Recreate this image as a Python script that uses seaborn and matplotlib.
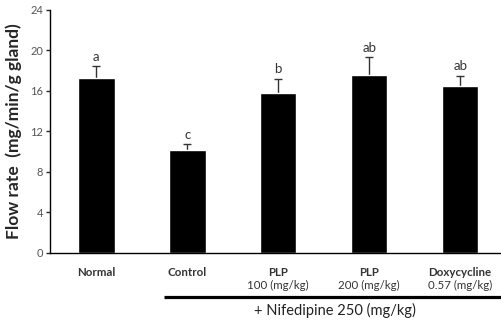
import numpy as np
import pandas as pd
import matplotlib
matplotlib.use('Agg')
from matplotlib import pyplot as plt
import matplotlib.transforms as mtransforms
import seaborn as sns

groups = ['Normal', 'Control', 'PLP 100', 'PLP 200', 'Doxycycline']
label_top = ['Normal', 'Control', 'PLP', 'PLP', 'Doxycycline']
label_bottom = ['', '', '100 (mg/kg)', '200 (mg/kg)', '0.57 (mg/kg)']
flow = [17.3, 10.2, 15.8, 17.55, 16.45]
sem = [1.15, 0.55, 1.4, 1.8, 1.05]
letters = ['a', 'c', 'b', 'ab', 'ab']

sns.set_style('ticks')
plt.rcParams['font.family'] = ['Lato', 'DejaVu Sans']

df = pd.DataFrame({'group': groups, 'flow': flow})

fig = plt.figure(figsize=(5.02, 3.21), dpi=100)
ax = fig.add_axes([50/502, 68.3/321, 452/502, 242.7/321])

sns.barplot(data=df, x='group', y='flow', color='black', width=0.4,
            saturation=1, errorbar=None, ax=ax)
pos = np.arange(len(groups))
tops = np.array(flow) + np.array(sem)
ax.errorbar(pos, flow, yerr=[np.zeros(len(sem)), sem], fmt='none',
            ecolor='#333333', elinewidth=1, capsize=0, zorder=0.5)
ax.scatter(pos, tops, marker='_', s=30, color='#333333', linewidths=1, zorder=3)

for i, (v, t) in enumerate(zip(tops, letters)):
    ax.annotate(t, (i, v), xytext=(0, 2.5), textcoords='offset points',
                ha='center', va='bottom', fontsize=9.5, color='#333333')

ax.set_xlim(-0.51, 4.46)
ax.set_ylim(0, 24)
ax.set_yticks([0, 4, 8, 12, 16, 20, 24])
ax.tick_params(axis='y', labelsize=8, labelcolor='#555555', length=3, width=1, pad=2)
ax.tick_params(axis='x', length=0, pad=10)
ax.set_xticks(pos)
ax.set_xticklabels(label_top, fontsize=8.3, fontweight='bold', color='#333333')
sns.despine(ax=ax)
for s in ['left', 'bottom']:
    ax.spines[s].set_linewidth(1)
    ax.spines[s].set_color('black')

ax.set_xlabel('')
ax.set_ylabel('Flow rate  (mg/min/g gland)', fontsize=12.5, fontweight='bold', labelpad=6)

trans = mtransforms.blended_transform_factory(ax.transData, ax.transAxes)
for i, t in enumerate(label_bottom):
    if t:
        ax.text(i, -0.134, t, transform=trans, ha='center', va='center',
                fontsize=8.3, color='#333333')

ax.plot([0.74, 4.46], [-0.183, -0.183], transform=trans, color='black',
        lw=2.3, clip_on=False, solid_capstyle='butt')
ax.text(2.62, -0.24, '+ Nifedipine 250 (mg/kg)', transform=trans, ha='center',
        va='center', fontsize=10.5, color='#222222')

fig.savefig('out.png', dpi=100)
